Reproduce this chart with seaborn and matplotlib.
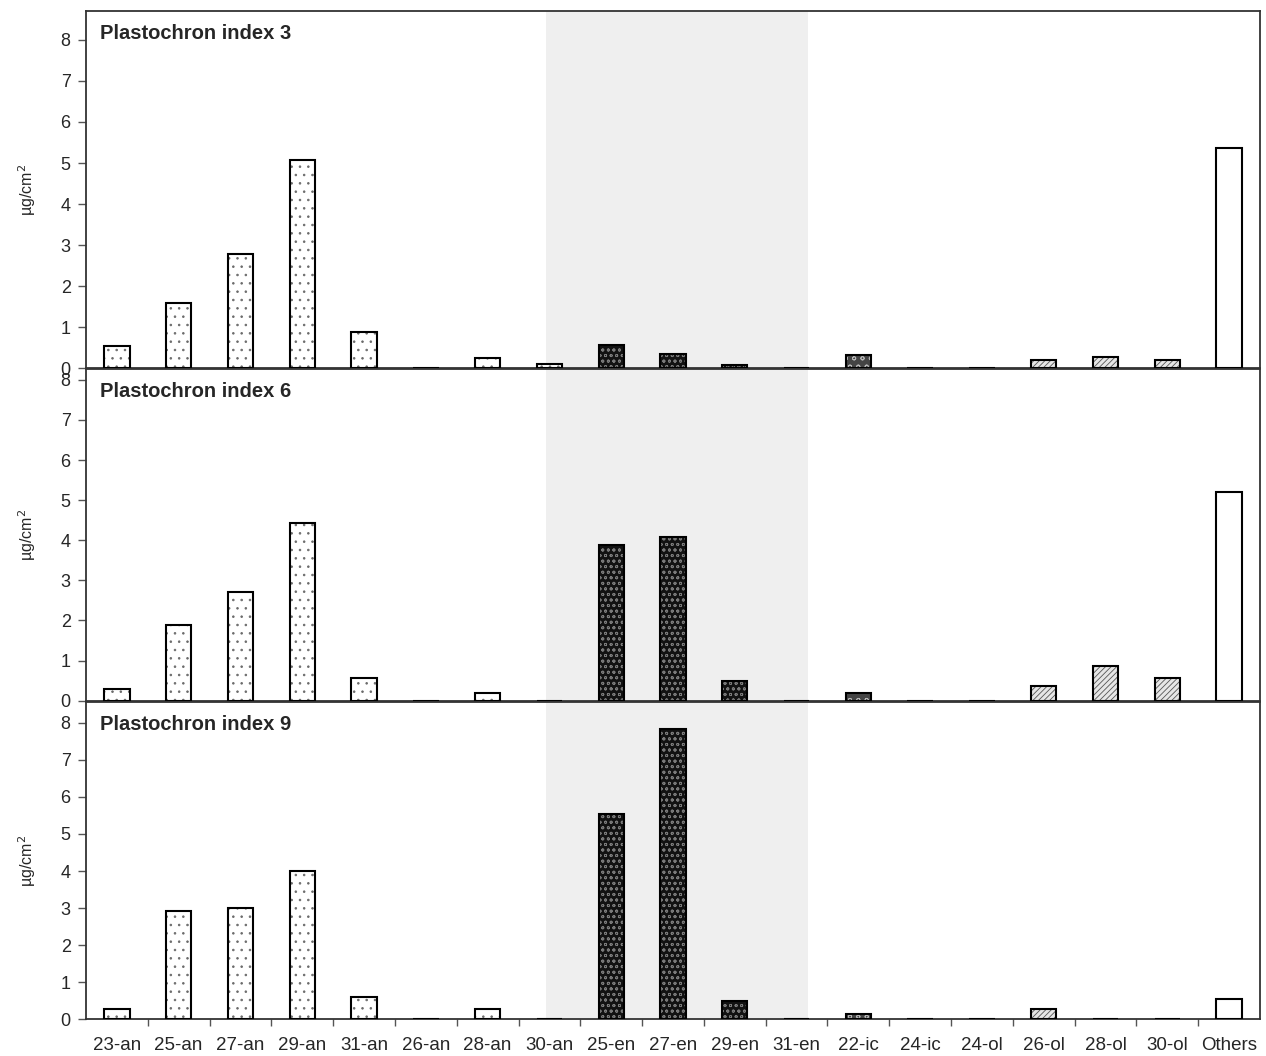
import numpy as np
import pandas as pd
import matplotlib
matplotlib.use("Agg")
import matplotlib.pyplot as plt
import seaborn as sns

# 화합물 범주 (x축)
compounds = ["23-an", "25-an", "27-an", "29-an", "31-an", "26-an", "28-an", "30-an",
             "25-en", "27-en", "29-en", "31-en", "22-ic", "24-ic", "24-ol", "26-ol",
             "28-ol", "30-ol", "Others"]
groups = ["an"] * 8 + ["en"] * 4 + ["ic"] * 2 + ["ol"] * 4 + ["other"]

# 각 plastochron index 별 값 (µg/cm2)
pi3 = [0.54, 1.58, 2.79, 5.08, 0.89, 0.0, 0.25, 0.11,
       0.56, 0.34, 0.09, 0.0, 0.33, 0.0, 0.0, 0.19, 0.27, 0.19, 5.37]
pi6 = [0.29, 1.89, 2.72, 4.42, 0.57, 0.0, 0.2, 0.0,
       3.87, 4.08, 0.49, 0.0, 0.2, 0.0, 0.0, 0.37, 0.87, 0.56, 5.2]
pi9 = [0.28, 2.93, 2.99, 4.0, 0.61, 0.0, 0.28, 0.0,
       5.54, 7.84, 0.5, 0.0, 0.13, 0.0, 0.0, 0.28, 0.0, 0.0, 0.55]

panel_titles = ["Plastochron index 3", "Plastochron index 6", "Plastochron index 9"]
panel_values = [pi3, pi6, pi9]
panel_ymax = [8.71, 8.27, 8.56]
shade_range = (6.94, 11.18)

# 그룹별 스타일: (면 색, 해치 색, 해치)
styles = {
    "an": ("white", "#6a6a6a", ".."),
    "en": ("#121212", "#7a7a7a", "ooo"),
    "ic": ("#444444", "#b8b8b8", "oo"),
    "ol": ("#e6e6e6", "#555555", "//////"),
    "other": ("white", "white", ""),
}

sns.set_style("white")
plt.rcParams["font.family"] = ["Liberation Sans", "DejaVu Sans"]
plt.rcParams["hatch.linewidth"] = 0.6

W, H = 1266, 1056
fig = plt.figure(figsize=(W / 100, H / 100), dpi=100)

# 패널 픽셀 위치 (top, bottom)
boxes = [(10.7, 368.3), (369.0, 700.7), (702.0, 1019.3)]
left, right = 86, 1260

for i, (title, vals, ymax, (top, bot)) in enumerate(zip(panel_titles, panel_values, panel_ymax, boxes)):
    ax = fig.add_axes([left / W, (H - bot) / H, (right - left) / W, (bot - top) / H])
    df = pd.DataFrame({"compound": compounds, "value": vals, "group": groups})

    sns.barplot(data=df, x="compound", y="value", order=compounds, width=0.41,
                color="white", linewidth=0, ax=ax, zorder=2)
    for patch, g in zip(ax.patches, groups):
        face, hcol, hatch = styles[g]
        patch.set_facecolor(face)
        patch.set_edgecolor(hcol)
        patch.set_hatch(hatch)
        patch.set_linewidth(0)
    # 테두리
    sns.barplot(data=df, x="compound", y="value", order=compounds, width=0.41,
                fill=False, color="black", linewidth=1.5, ax=ax, zorder=3)

    ax.axvspan(shade_range[0], shade_range[1], color="#efefef", zorder=0, lw=0)

    ax.set_xlim(-0.5, len(compounds) - 0.5)
    ax.set_ylim(0, ymax)
    ax.set_yticks(range(0, 9))
    ax.tick_params(axis="y", direction="out", length=6, width=1, labelsize=13,
                   color="#555555", pad=5, left=True)
    ax.set_ylabel("µg/cm$^2$", fontsize=11.5, labelpad=16)
    for s in ax.spines.values():
        s.set_color("#333333")
        s.set_linewidth(1.3)

    ax.text(14 / (right - left), 1 - 23 / (bot - top), title, transform=ax.transAxes,
            fontsize=14.5, fontweight="bold", va="center", ha="left")

    if i < 2:
        ax.set_xticks([])
        ax.set_xlabel("")
    else:
        ax.set_xticks(range(len(compounds)))
        ax.set_xticklabels(compounds)
        ax.set_xticks(np.arange(len(compounds) - 1) + 0.5, minor=True)
        ax.tick_params(axis="x", which="major", length=0, labelsize=13.5, pad=13)
        ax.tick_params(axis="x", which="minor", direction="out", length=5, width=1,
                       color="#555555", bottom=True)
        ax.set_xlabel("")

fig.savefig("out.png", dpi=100)
